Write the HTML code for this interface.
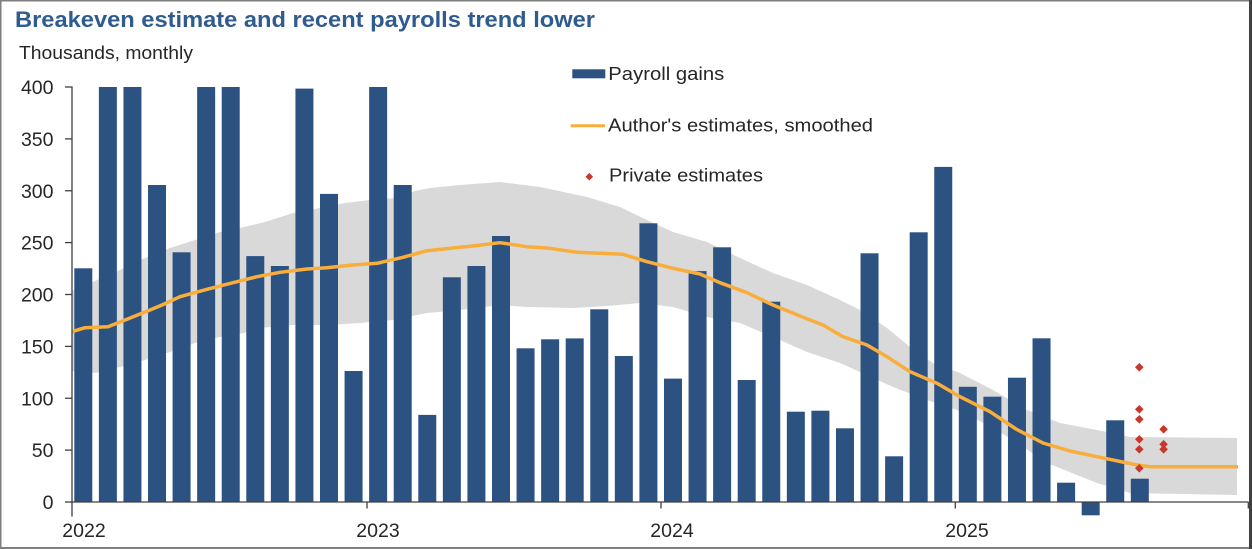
<!DOCTYPE html>
<html><head><meta charset="utf-8"><style>
html,body{margin:0;padding:0;background:#fff;}
svg{display:block;}
text{font-family:"Liberation Sans",Arial,sans-serif;}
</style></head><body>
<svg width="1252" height="549" viewBox="0 0 1252 549" xmlns="http://www.w3.org/2000/svg">
<rect x="0" y="0" width="1252" height="549" fill="#fff"/>
<polygon fill="#d9d9d9" points="72,291 95,281 120,270 145,258 170,248 195,240 220,232 244,227 265,222 293,213 320,208 345,203 370,200 395,198 415,191 430,188 460,185 500,182 540,187 587,197 620,207 647,220 673,232 707,242 740,258 773,273 807,285 840,300 860,310 887,328 910,347 933,363 960,373 993,390 1027,410 1060,423 1097,430 1130,437 1237,438 1237,495 1130,493 1097,483 1047,463 1013,440 993,428 960,411 927,400 893,387 860,372 840,363 807,352 773,337 740,323 707,317 673,307 640,303 607,306 573,308 527,307 500,305 460,310 427,313 393,320 360,323 327,325 293,325 260,328 244,333 220,337 195,343 170,352 145,360 120,367 95,373 72,371"/>
<g fill="#2c5282">
<rect x="74.30" y="268.3" width="18" height="233.7"/>
<rect x="98.87" y="87" width="18" height="415"/>
<rect x="123.44" y="87" width="18" height="415"/>
<rect x="148.01" y="185.0" width="18" height="317"/>
<rect x="172.58" y="252.3" width="18" height="249.7"/>
<rect x="197.15" y="87" width="18" height="415"/>
<rect x="221.72" y="87" width="18" height="415"/>
<rect x="246.29" y="256.1" width="18" height="245.9"/>
<rect x="270.86" y="266.0" width="18" height="236"/>
<rect x="295.43" y="88.6" width="18" height="413.4"/>
<rect x="320.00" y="193.9" width="18" height="308.1"/>
<rect x="344.57" y="371.0" width="18" height="131"/>
<rect x="369.14" y="87" width="18" height="415"/>
<rect x="393.71" y="185.0" width="18" height="317"/>
<rect x="418.28" y="414.9" width="18" height="87.1"/>
<rect x="442.85" y="277.3" width="18" height="224.7"/>
<rect x="467.42" y="266.0" width="18" height="236"/>
<rect x="491.99" y="236.0" width="18" height="266"/>
<rect x="516.56" y="348.3" width="18" height="153.7"/>
<rect x="541.13" y="339.3" width="18" height="162.7"/>
<rect x="565.70" y="338.4" width="18" height="163.6"/>
<rect x="590.27" y="309.3" width="18" height="192.7"/>
<rect x="614.84" y="356.0" width="18" height="146"/>
<rect x="639.41" y="223.3" width="18" height="278.7"/>
<rect x="663.98" y="378.6" width="18" height="123.4"/>
<rect x="688.55" y="271.1" width="18" height="230.9"/>
<rect x="713.12" y="247.3" width="18" height="254.7"/>
<rect x="737.69" y="380.0" width="18" height="122"/>
<rect x="762.26" y="301.7" width="18" height="200.3"/>
<rect x="786.83" y="411.7" width="18" height="90.3"/>
<rect x="811.40" y="410.7" width="18" height="91.3"/>
<rect x="835.97" y="428.3" width="18" height="73.7"/>
<rect x="860.54" y="253.3" width="18" height="248.7"/>
<rect x="885.11" y="456.3" width="18" height="45.7"/>
<rect x="909.68" y="232.3" width="18" height="269.7"/>
<rect x="934.25" y="166.9" width="18" height="335.1"/>
<rect x="958.82" y="386.8" width="18" height="115.2"/>
<rect x="983.39" y="396.7" width="18" height="105.3"/>
<rect x="1007.96" y="377.7" width="18" height="124.3"/>
<rect x="1032.53" y="338.3" width="18" height="163.7"/>
<rect x="1057.10" y="482.7" width="18" height="19.3"/>
<rect x="1081.67" y="502" width="18" height="13.3"/>
<rect x="1106.24" y="420.3" width="18" height="81.7"/>
<rect x="1130.81" y="478.7" width="18" height="23.3"/>
</g>
<polyline fill="none" stroke="#f9ad3a" stroke-width="3.5" stroke-linejoin="round" points="72,331.7 85,327.7 108,326.7 127,319.3 150,310 162,305 180,296.7 207,289.3 233,282.7 257,276.7 280,272.3 307,269 327,267.7 350,265.3 377,263.3 403,257.3 427,250.7 460,247.3 473,246 500,242.7 527,246.7 550,248.3 577,252.3 623,254.3 647,261.7 673,268.3 700,274 720,282.7 747,292.7 773,305 800,316 823,325 843,336.7 867,345 887,356.7 910,371.7 937,383.3 960,396.7 990,411.7 1016,429 1043,443 1070,451 1097,456.7 1137,465 1150,466.7 1238,466.7"/>
<g fill="#c8372d">
<polygon points="1139.3,363 1143.6,367.3 1139.3,371.6 1135,367.3"/>
<polygon points="1139.3,405 1143.6,409.3 1139.3,413.6 1135,409.3"/>
<polygon points="1139.3,415 1143.6,419.3 1139.3,423.6 1135,419.3"/>
<polygon points="1139.3,435 1143.6,439.3 1139.3,443.6 1135,439.3"/>
<polygon points="1139.3,445 1143.6,449.3 1139.3,453.6 1135,449.3"/>
<polygon points="1139.3,464 1143.6,468.3 1139.3,472.6 1135,468.3"/>
<polygon points="1163.6,425 1167.9,429.3 1163.6,433.6 1159.3,429.3"/>
<polygon points="1163.6,440 1167.9,444.3 1163.6,448.6 1159.3,444.3"/>
<polygon points="1163.6,445 1167.9,449.3 1163.6,453.6 1159.3,449.3"/>
</g>
<g stroke="#404040" stroke-width="1.3" fill="none">
<line x1="72" y1="86.5" x2="72" y2="516.5"/>
<line x1="72" y1="502" x2="1248.5" y2="502"/>
<line x1="65" y1="87" x2="72" y2="87"/>
<line x1="65" y1="138.9" x2="72" y2="138.9"/>
<line x1="65" y1="190.75" x2="72" y2="190.75"/>
<line x1="65" y1="242.6" x2="72" y2="242.6"/>
<line x1="65" y1="294.5" x2="72" y2="294.5"/>
<line x1="65" y1="346.4" x2="72" y2="346.4"/>
<line x1="65" y1="398.25" x2="72" y2="398.25"/>
<line x1="65" y1="450.1" x2="72" y2="450.1"/>
<line x1="65" y1="502" x2="72" y2="502"/>
<line x1="367" y1="502" x2="367" y2="508.5"/>
<line x1="661" y1="502" x2="661" y2="508.5"/>
<line x1="955.3" y1="502" x2="955.3" y2="508.5"/>
<line x1="1248.3" y1="502" x2="1248.3" y2="508.5"/>
</g>
<g fill="#262626" font-size="19.5" text-anchor="end">
<text x="53.5" y="94">400</text>
<text x="53.5" y="145.9">350</text>
<text x="53.5" y="197.75">300</text>
<text x="53.5" y="249.6">250</text>
<text x="53.5" y="301.5">200</text>
<text x="53.5" y="353.4">150</text>
<text x="53.5" y="405.25">100</text>
<text x="53.5" y="457.1">50</text>
<text x="53.5" y="509">0</text>
</g>
<g fill="#262626" font-size="19.5" text-anchor="middle">
<text x="84" y="537">2022</text>
<text x="378" y="537">2023</text>
<text x="672" y="537">2024</text>
<text x="967" y="537">2025</text>
</g>
<text x="15" y="27" font-size="22" font-weight="bold" fill="#2f5b8e" textLength="580" lengthAdjust="spacingAndGlyphs">Breakeven estimate and recent payrolls trend lower</text>
<text x="19" y="59" font-size="18.5" fill="#262626" textLength="174" lengthAdjust="spacingAndGlyphs">Thousands,  monthly</text>
<rect x="572.3" y="69.3" width="33" height="9" fill="#2c5282"/>
<text x="608.3" y="80" font-size="18.5" fill="#262626" textLength="116" lengthAdjust="spacingAndGlyphs">Payroll gains</text>
<line x1="570.7" y1="125.7" x2="605" y2="125.7" stroke="#f9ad3a" stroke-width="3"/>
<text x="608" y="131.7" font-size="18.5" fill="#262626" textLength="265" lengthAdjust="spacingAndGlyphs">Author's estimates, smoothed</text>
<polygon points="589.3,172.9 593.1,176.7 589.3,180.5 585.5,176.7" fill="#c8372d"/>
<text x="609" y="181.7" font-size="18.5" fill="#262626" textLength="154" lengthAdjust="spacingAndGlyphs">Private estimates</text>
<rect x="0" y="0" width="1252" height="1.5" fill="#7f7f7f"/>
<rect x="0" y="0" width="1.5" height="549" fill="#7f7f7f"/>
<rect x="0" y="547" width="1252" height="2" fill="#7f7f7f"/>
<rect x="1249" y="0" width="3" height="549" fill="#404040"/>
</svg>
</body></html>
